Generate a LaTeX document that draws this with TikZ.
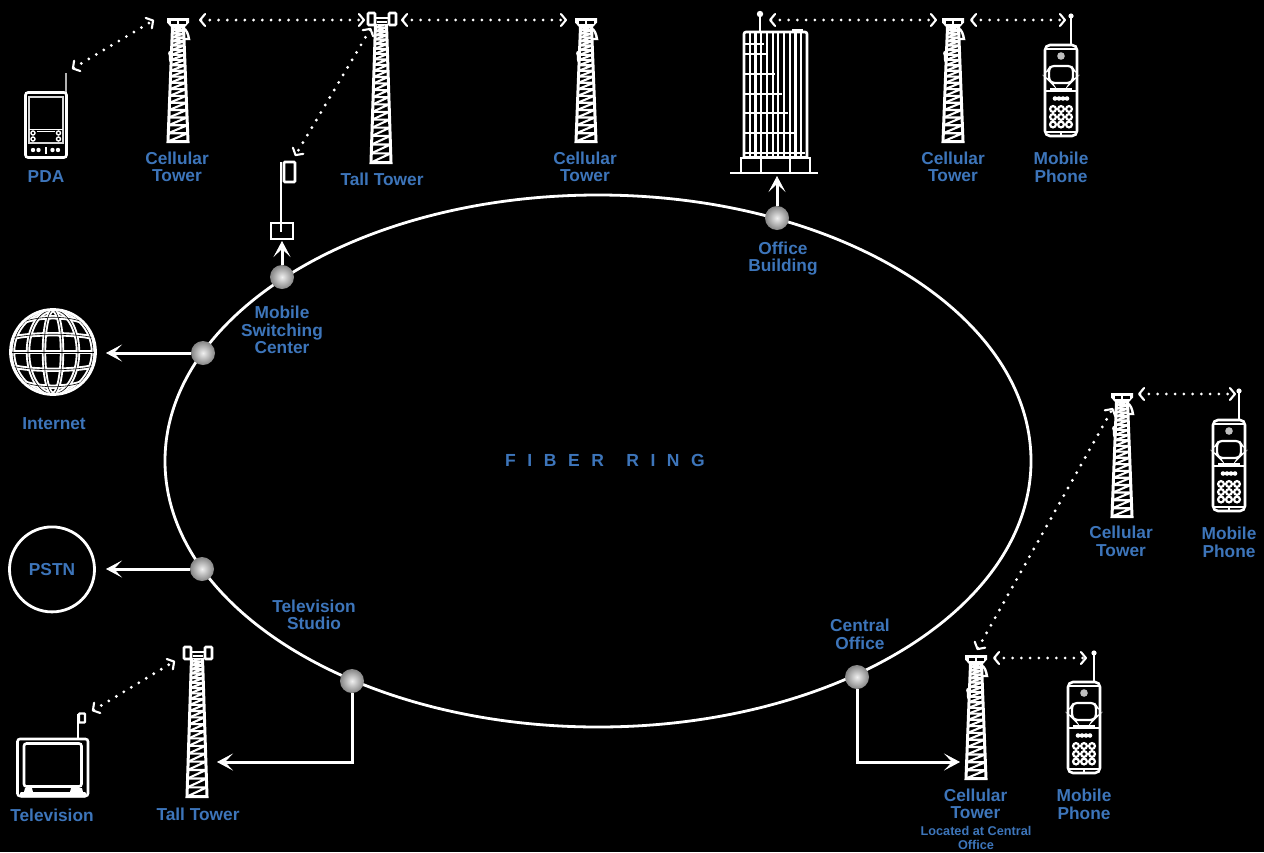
\documentclass[tikz,border=0pt]{standalone}
\usepackage{fontspec}
\setmainfont{Liberation Sans}
\usetikzlibrary{arrows.meta,calc}
\definecolor{lab}{HTML}{3D75BA}
\newcommand\lattice[5]{%
  \begin{scope}
  \clip (-#3,#1) -- (-#4,#2) -- (#4,#2) -- (#3,#1) -- cycle;
  \foreach \i in {1,...,#5}{%
    \pgfmathsetmacro{\ta}{(\i-1)/#5}\pgfmathsetmacro{\tb}{\i/#5}%
    \pgfmathsetmacro{\ya}{#1+(#2-#1)*(0.53*\ta+0.47*\ta*\ta)}%
    \pgfmathsetmacro{\yb}{#1+(#2-#1)*(0.53*\tb+0.47*\tb*\tb)}%
    \pgfmathsetmacro{\wa}{#3+(#4-#3)*(\ya-#1)/(#2-#1)}%
    \pgfmathsetmacro{\wb}{#3+(#4-#3)*(\yb-#1)/(#2-#1)}%
    \draw[line width=2.1pt] (-\wa,\ya) -- (\wa,\ya) -- (-\wb,\yb);
  }%
  \end{scope}
  \draw[line width=3pt,line join=miter] (-#3,#1) -- (-#4,#2) -- (#4,#2) -- (#3,#1);
}
\tikzset{
  x=1pt,y=-1pt,
  radio/.style={white,line width=3.2pt,line cap=round,dash pattern=on 0pt off 8.75pt,
     {Straight Barb[length=5pt,width=12pt,line width=2.1pt,round]}-{Straight Barb[length=5pt,width=12pt,line width=2.1pt,round]}},
  feed/.style={white,line width=3pt,-{Stealth[length=16pt,width=17pt,inset=8pt,line width=0.8pt]}},
  ball/.style={circle,minimum size=24pt,inner sep=0pt,inner color=white!88!gray,outer color=black!48},
  lbl/.style={text=lab,font=\fontsize{17.3}{17.4}\selectfont\bfseries,align=center,inner sep=0pt,yshift=-0.4pt},
  pics/celltower/.style={code={
    \begin{scope}[white,line width=2.4pt]
      \lattice{9}{123.5}{5.5}{10}{20}
      \fill (-11,0) -- (11,0) -- (11,4.5) -- (7,9) -- (-7,9) -- (-11,4.5) -- cycle;
      \fill[black] (-7.5,2.5) rectangle (-1,5.5);
      \fill[black] (1,2.5) rectangle (7.5,5.5);
      \draw (5,10) .. controls (9,12) and (10,16) .. (11,21) -- (6,21);
      \fill (-9,38) .. controls (-11,35) and (-9,32) .. (-7,32) -- (-6,45) .. controls (-8,46) and (-10,42) .. (-9,38);
    \end{scope}}},
  pics/talltower/.style={code={
    \begin{scope}[white,line width=2.4pt]
      \lattice{12}{150.5}{5.5}{10}{22}
      \draw[rounded corners=1pt,line width=2.6pt] (-13,1) rectangle (-6,13);
      \draw[rounded corners=1pt,line width=2.6pt] (8,1) rectangle (15,13);
      \draw[line width=2.4pt] (-6,6) -- (8,6);
      \draw[line width=2.4pt] (-4,10) -- (6,10);
    \end{scope}}},
  pics/phone/.style={code={
    \begin{scope}[white,line width=2.2pt]
      \draw[rounded corners=5pt,line width=2.6pt] (-16,0) rectangle (16,91);
      \draw (10,0) -- (10,-29);
      \fill (10,-29) circle (2.6pt);
      \draw (-15,4) -- (15,4);
      \fill[white!75!black] (0,11) circle (3.8pt);
      \draw[rounded corners=3pt] (-12,24) -- (-10,21) -- (10,21) -- (12,24) -- (12,35) -- (9,38) -- (-9,38) -- (-12,35) -- cycle;
      \draw (-16,46) -- (16,46);
      \draw[line width=4.5pt] (-11,45) -- (11,45);
      \foreach \dx in {-6,-2,2,6} \fill (\dx,53.5) circle (2.3pt);
      \foreach \ky in {64,72,79.5} \foreach \kx in {-8,0,8} \draw[line width=2.2pt] (\kx,\ky) circle (2.9pt);
      \draw (-15,87) -- (15,87);
      \draw (0,87) -- (0,91);
    \end{scope}}}
}
\begin{document}
\begin{tikzpicture}
\useasboundingbox (0,0) rectangle (1264,852);
\fill[black] (0,0) rectangle (1264,852);

% ring
\draw[white,line width=2.8pt] (598,461) ellipse [x radius=433,y radius=266];
\node (ringlabel) [text=lab,font=\fontsize{17.5}{17.5}\selectfont\bfseries,inner sep=0pt] at (605,460) {\addfontfeature{LetterSpace=66}FIBER\hspace{6pt} RING};

% towers
\pic at (178,18) {celltower};
\pic at (586,18) {celltower};
\pic at (953,18) {celltower};
\pic at (1122,393) {celltower};
\pic at (976,655) {celltower};
\pic at (381,12) {talltower};
\pic at (197,646) {talltower};

% phones
\pic at (1061,45) {phone};
\pic at (1229,420) {phone};
\pic at (1084,682) {phone};

% PDA
\begin{scope}[white]
  \draw[line width=1.3pt,white!70!black] (66,73) -- (66,92);
  \draw[rounded corners=2.5pt,line width=2.6pt] (25.5,92.5) rectangle (66.5,157.5);
  \draw[line width=1.5pt,white!85!black] (29,97) rectangle (63,143);
  \draw[line width=1.5pt] (29,129.5) -- (63,129.5);
  \draw[line width=1.4pt] (37,131.5) -- (55,131.5);
  \draw[line width=1.4pt] (33,133) circle (2pt) (33,139) circle (2pt) (58.5,133) circle (2pt) (58.5,139) circle (2pt);
  \foreach \px in {33,38.5,52.5,58} \fill (\px,150) circle (2.2pt);
  \draw[line width=2pt] (45.5,147) -- (45.5,154);
\end{scope}

% MSC antenna
\node (mscbox) [draw=white,line width=2.6pt,minimum width=22pt,minimum height=16pt,inner sep=0pt] at (282,231) {};
\draw[white,line width=2.2pt] (281,162) -- (281,232);
\draw[white,line width=2.6pt,rounded corners=1pt] (284,162) rectangle (295,182);

% office building
\begin{scope}[white]
  \draw[line width=2.6pt,rounded corners=2pt] (744,157) -- (744,32) -- (807,32) -- (807,157);
  \foreach \k in {1,...,10} \draw[line width=2.2pt] ({744+\k*5.72},32) -- ({744+\k*5.72},156);
  \foreach \by/\bw in {44/764,54/766,74/775,94/782,113/788,133/795,153/805} \draw[line width=2pt] (744,\by) -- (\bw,\by);
  \draw[line width=2.4pt] (744,157) -- (807,157);
  \draw[line width=2.2pt] (760,32) -- (760,14);
  \fill (760,14) circle (3.2pt);
  \fill (792,32) -- (792,28.5) -- (803,28.5) -- (803,32) -- cycle;
  \draw[line width=2.4pt] (741,173) -- (741,158) -- (810,158) -- (810,173);
  \draw[line width=2.4pt] (761,158) -- (761,173) (790,158) -- (790,173);
  \draw[line width=2.6pt] (730,173) -- (818,173);
\end{scope}

% globe
\begin{scope}
  \clip (53,352) circle (43);
  \foreach \lw/\col in {4.4/white,0.6/black}{
    \draw[line width=\lw pt,\col] (53,352) ellipse [x radius=9,y radius=42];
    \draw[line width=\lw pt,\col] (53,352) ellipse [x radius=25,y radius=42];
    \draw[line width=\lw pt,\col] (53,352) ellipse [x radius=40,y radius=42];
    \draw[line width=\lw pt,\col] (10,352) -- (96,352);
    \draw[line width=\lw pt,\col] (12,338) .. controls (30,333) and (76,333) .. (94,338);
    \draw[line width=\lw pt,\col] (12,366) .. controls (30,371) and (76,371) .. (94,366);
    \draw[line width=\lw pt,\col] (19,324) .. controls (35,315) and (71,315) .. (87,324);
    \draw[line width=\lw pt,\col] (19,380) .. controls (35,389) and (71,389) .. (87,380);
  }
\end{scope}
\node (globe) [circle,draw=white,line width=2.8pt,minimum size=85pt,inner sep=0pt] at (53,352) {};

% PSTN
\node (pstn) [circle,draw=white,line width=2.8pt,minimum size=85pt,inner sep=0pt,lbl] at (52,569) {PSTN};

% television
\begin{scope}[white]
  \draw[line width=2.6pt,rounded corners=2.5pt] (17.5,739) rectangle (88,796);
  \draw[line width=2.6pt,rounded corners=2.5pt] (24,743.5) rectangle (81.5,786.5);
  \fill[rounded corners=1pt] (20,792) rectangle (86,797.5);
  \fill (24,792) -- (25,788) -- (32,788) -- (33,792) -- cycle;
  \fill (70,792) -- (71,788) -- (82,788) -- (83,792) -- cycle;
  \draw[line width=1.8pt] (78,739) -- (78,714);
  \draw[line width=2.4pt,rounded corners=.8pt] (79,713.5) rectangle (85,722.5);
\end{scope}

% radio link end points
\coordinate (c1l) at (199,20);  \coordinate (tt1l) at (365,20);
\coordinate (tt1r) at (401,20); \coordinate (c2r) at (567,20);
\coordinate (pdaA) at (72,69);  \coordinate (c1a) at (154,20);
\coordinate (tt1a) at (371,28); \coordinate (msca) at (295,156);
\coordinate (bldg) at (769,20); \coordinate (c3l) at (937,20);
\coordinate (c3r) at (970,20);  \coordinate (ph1) at (1066,20);
\coordinate (c4r) at (1138,394);\coordinate (ph2) at (1236,394);
\coordinate (c5r) at (993,658); \coordinate (ph3) at (1087,658);
\coordinate (c5a) at (977,650); \coordinate (c4a) at (1113,408);
\coordinate (tva) at (92,711);  \coordinate (tt2a) at (175,661);
\foreach \p/\q in {c1l/tt1l,tt1r/c2r,pdaA/c1a,tt1a/msca,bldg/c3l,c3r/ph1,c4r/ph2,c5r/ph3,c5a/c4a,tva/tt2a}
  \draw[radio] (\p) -- (\q);

% feed end points
\coordinate (toNet) at (106,353);
\coordinate (toPstn) at (106,569);
\coordinate (toTall) at (217,762);
\coordinate (toCell) at (960,762);
\coordinate (toBldg) at (777,176);
\coordinate (toMsc) at (282,241);

% ring nodes
\node (nMsc) [ball] at (282,277) {};
\node (nOff) [ball] at (777,218) {};
\node (nNet) [ball] at (203,353) {};
\node (nPst) [ball] at (202,569) {};
\node (nTv)  [ball] at (352,681) {};
\node (nCo)  [ball] at (857,677) {};
\draw[feed] (nMsc.north) -- (toMsc);
\draw[feed] (nOff.north) -- (toBldg);
\draw[feed] (nNet.west) -- (toNet);
\draw[feed] (nPst.west) -- (toPstn);
\draw[feed] (nTv.south) |- (toTall);
\draw[feed] (nCo.south) |- (toCell);

% labels
\node (lPda) [lbl] at (46,176) {PDA};
\node (lC1) [lbl] at (177,166.5) {Cellular\\Tower};
\node (lT1) [lbl] at (382,179) {Tall Tower};
\node (lC2) [lbl] at (585,166.5) {Cellular\\Tower};
\node (lOff) [lbl] at (783,258) {Office\\Building};
\node (lC3) [lbl] at (953,166.5) {Cellular\\Tower};
\node (lP1) [lbl] at (1061,167) {Mobile\\Phone};
\node (lMsc) [lbl] at (282,329.5) {Mobile\\Switching\\Center};
\node (lNet) [lbl] at (54,423) {Internet};
\node (lC4) [lbl] at (1121,541) {Cellular\\Tower};
\node (lP2) [lbl] at (1229,542) {Mobile\\Phone};
\node (lTv) [lbl] at (314,614.5) {Television\\Studio};
\node (lCo) [lbl] at (860,634) {Central\\Office};
\node (lT2) [lbl] at (198,814) {Tall Tower};
\node (lTel) [lbl] at (52,815) {Television};
\node (lC5) [lbl] at (975.5,803.5) {Cellular\\Tower};
\node (lP3) [lbl] at (1084,804) {Mobile\\Phone};
\node (lLoc) [text=lab,font=\fontsize{12.7}{13.5}\selectfont\bfseries,align=center,inner sep=0pt] at (976,838) {Located at Central\\Office};
\end{tikzpicture}
\end{document}
